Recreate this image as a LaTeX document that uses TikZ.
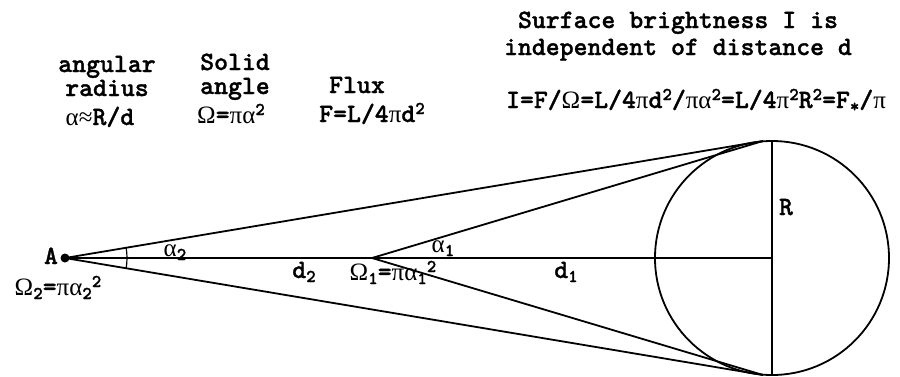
\documentclass[tikz,border=0pt]{standalone}
\usepackage{fontspec}
\setmonofont{lmmono10-regular}[Extension=.otf, BoldFont=lmmonolt10-bold, BoldFeatures={FakeBold=1.2}]
\newfontfamily\grkfont{Liberation Serif}
\newcommand\gk[1]{{\grkfont\mdseries\fontsize{25}{26}\selectfont #1}}
\newcommand\sps[1]{\raisebox{8pt}{\fontsize{18}{18}\selectfont #1}}
\newcommand\sbs[1]{\raisebox{-4pt}{\fontsize{18}{18}\selectfont #1}}
\tikzset{
  lbl/.style={font=\ttfamily\bfseries\fontsize{26.5}{28}\selectfont, inner sep=0pt, anchor=base},
  ln/.style={line width=1.8pt, black},
}
\begin{document}
\begin{tikzpicture}[x=1pt,y=-1pt]
\useasboundingbox (0,0) rectangle (900,376);
% geometry
\coordinate (A) at (65,258);
\coordinate (P) at (372,258);
\coordinate (C) at (772,258);
\coordinate (T) at (763,141);
\coordinate (B) at (763,375);
\coordinate (Rt) at (772,140);
\coordinate (Rb) at (772,375);
\draw[ln] (C) circle[radius=117];
\draw[ln] (A) -- (C);
\draw[ln] (Rt) -- (Rb);
\draw[ln] (A) -- (T);
\draw[ln] (A) -- (B);
\draw[ln] (P) -- (T);
\draw[ln] (P) -- (B);
\draw[line width=1.2pt] ([shift={(-9.5:62)}]A) arc[start angle=-9.5, end angle=9.5, radius=62];
\fill (A) circle[radius=4.5];
% labels on figure
\node[lbl] (lA) at (51,264) {A};
\node[lbl] (lO2) at (58,295) {\gk{Ω}\sbs{2}=\gk{πα}\sbs{2}\sps{2}};
\node[lbl] (la2) at (175,256) {\gk{α}\sbs{2}};
\node[lbl] (ld2) at (304,278) {d\sbs{2}};
\node[lbl] (lO1) at (393,280) {\gk{Ω}\sbs{1}=\gk{πα}\sbs{1}\sps{2}};
\node[lbl] (la1) at (443,252) {\gk{α}\sbs{1}};
\node[lbl] (ld1) at (566,278) {d\sbs{1}};
\node[lbl] (lR) at (786,215) {R};
% top labels
\node[lbl] (t1) at (107,72) {angular};
\node[lbl] (t2) at (107,96) {radius};
\node[lbl] (t3) at (100,125) {\gk{α≈}R/d};
\node[lbl] (s1) at (235,70) {Solid};
\node[lbl] (s2) at (235,94) {angle};
\node[lbl] (s3) at (231,123) {\gk{Ω}=\gk{πα}\sps{2}};
\node[lbl] (f1) at (357,93) {Flux};
\node[lbl] (f2) at (372,122) {F=L/4\gk{π}d\sps{2}};
\node[lbl] (h1) at (678,28) {Surface brightness I is};
\node[lbl] (h2) at (678,55) {independent of distance d};
\node[lbl] (h3) at (696,108) {I=F/\gk{Ω}=L/4\gk{π}d\sps{2}/\gk{πα}\sps{2}=L/4\gk{π}\sps{2}R\sps{2}=F\sbs{*}/\gk{π}};
\end{tikzpicture}
\end{document}
